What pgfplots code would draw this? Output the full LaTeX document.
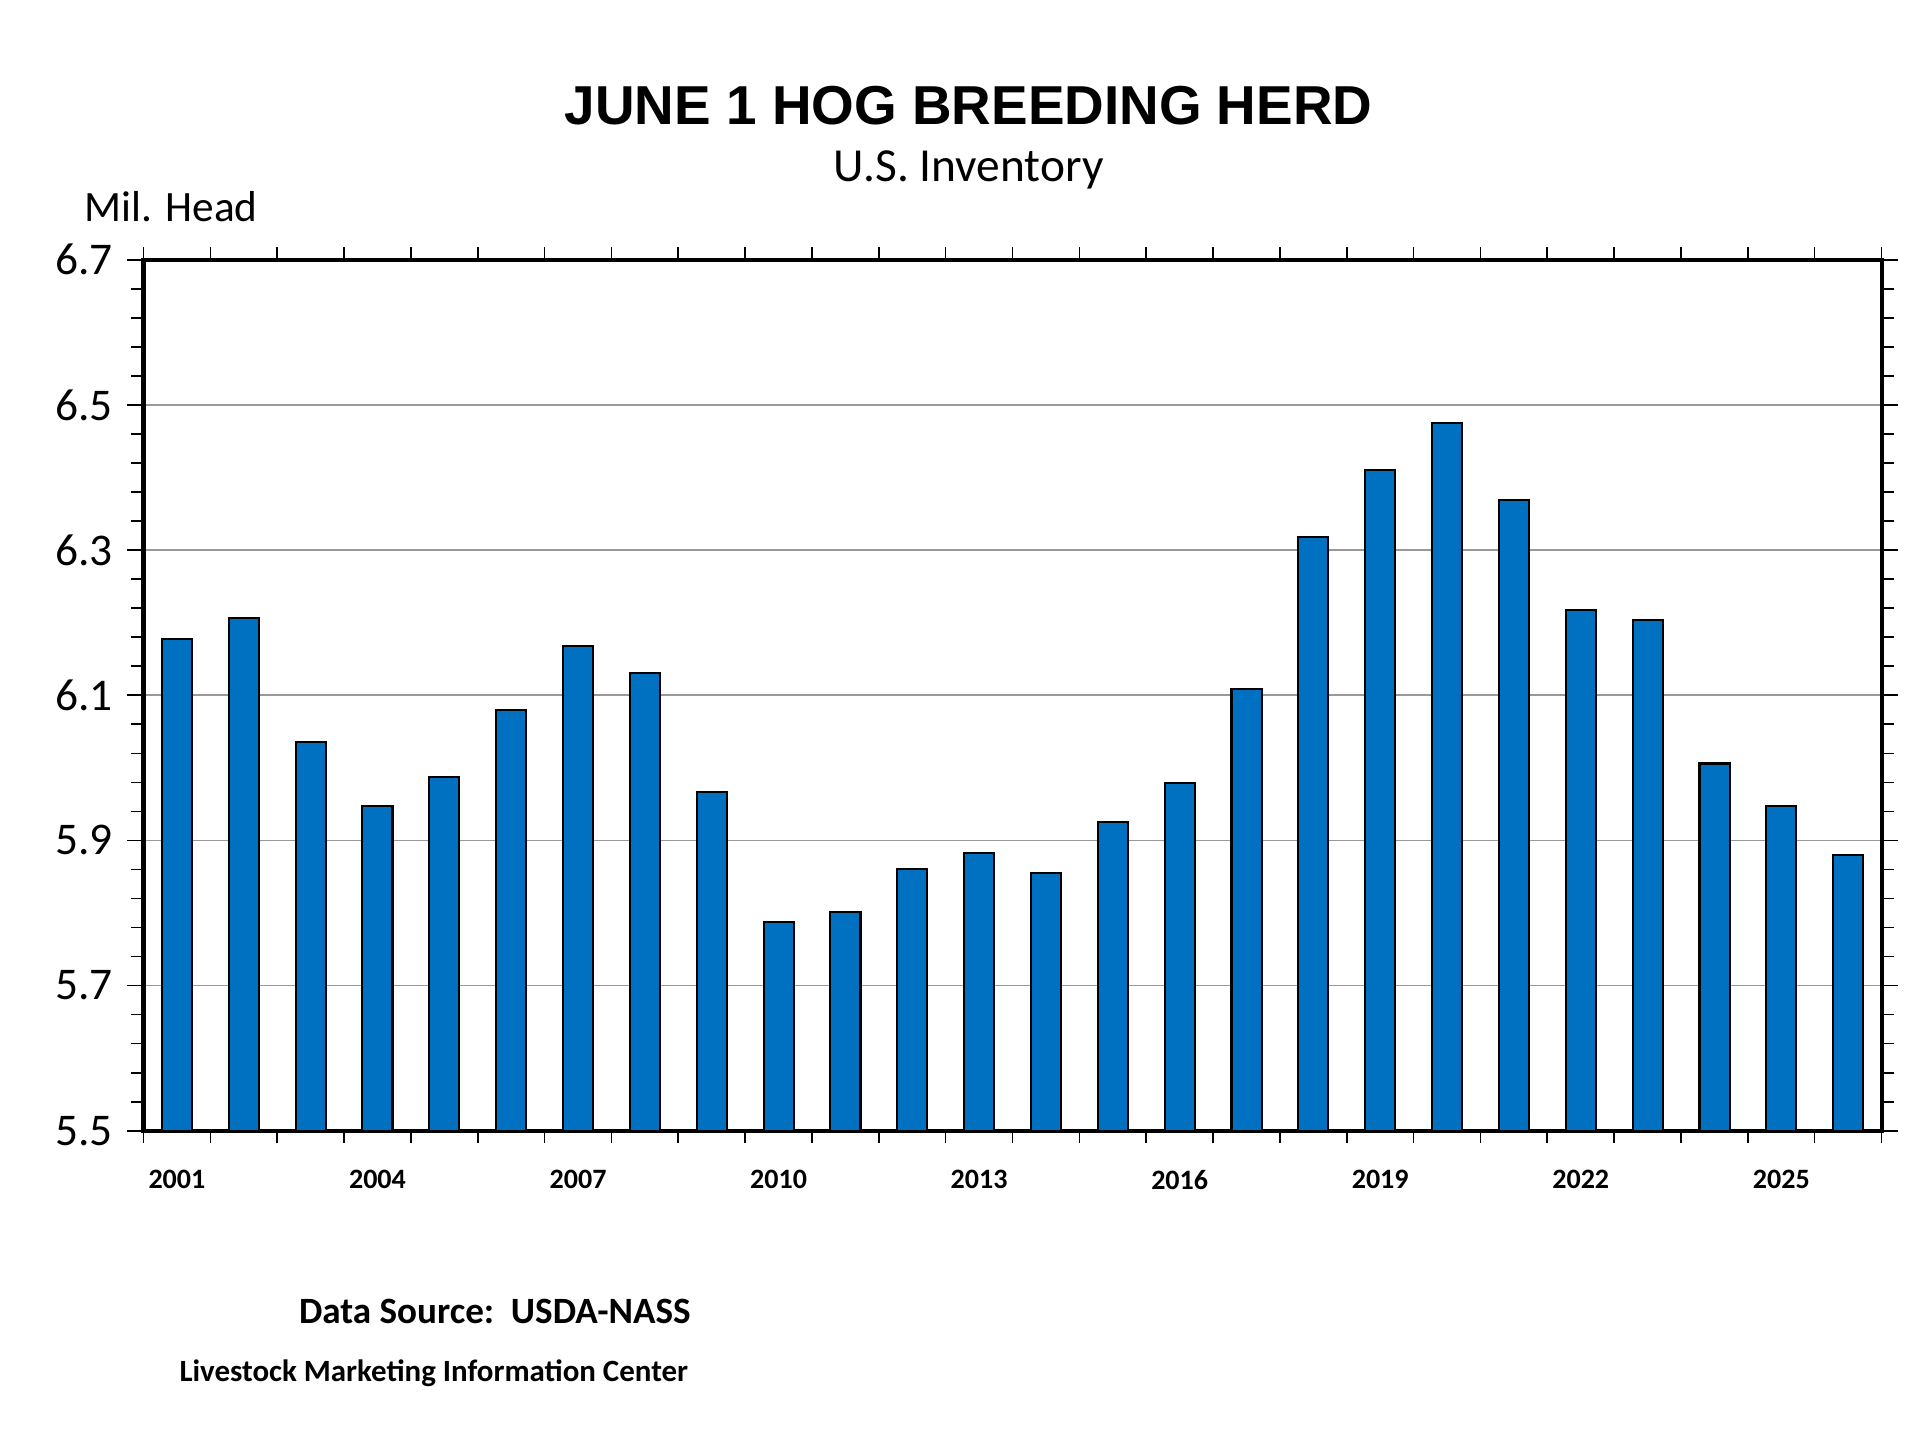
\documentclass[border=0pt]{standalone}
\usepackage{pgfplots}
\pgfplotsset{compat=1.18}
\usepackage{fontspec}
\setmainfont{Carlito}
\newfontfamily\arial{Liberation Sans}
\definecolor{barblue}{RGB}{0,112,192}
\begin{document}
\begin{tikzpicture}
\path (0,0) rectangle (465.6pt,349.2pt);
\begin{axis}[
  at={(34.8pt,75pt)}, anchor=south west, scale only axis,
  width=421.5pt, height=211.2pt,
  xmin=2000.5, xmax=2026.5, ymin=5.5, ymax=6.7,
  ytick={5.5,5.7,...,6.71}, minor y tick num=4,
  yticklabel style={/pgf/number format/fixed,/pgf/number format/fixed zerofill,/pgf/number format/precision=1,font=\fontsize{11}{13}\selectfont},
  /pgf/number format/assume math mode=true,
  xtick={2001,2004,...,2025}, minor xtick={2000.5,2001.5,...,2026.5},
  xticklabel style={font=\fontsize{6.8}{8}\selectfont\bfseries, yshift=-2pt, /pgf/number format/1000 sep={}},
  tick align=outside, major x tick style={draw=none},
  minor tick length=3pt, major tick length=4pt,
  ymajorgrids, grid style={gray!80, line width=0.4pt},
  axis line style={line width=1pt}, tick style={black, line width=0.4pt},
  ybar, bar width=0.45,
]
\addplot[fill=barblue, draw=black, line width=0.5pt] coordinates {
(2001,6.177)(2002,6.207)(2003,6.035)(2004,5.947)(2005,5.987)(2006,6.080)
(2007,6.168)(2008,6.131)(2009,5.967)(2010,5.788)(2011,5.802)(2012,5.861)
(2013,5.883)(2014,5.855)(2015,5.926)(2016,5.979)(2017,6.108)(2018,6.318)
(2019,6.410)(2020,6.475)(2021,6.369)(2022,6.218)(2023,6.204)(2024,6.006)
(2025,5.948)(2026,5.880)};
\end{axis}
\node[font=\arial\bfseries\fontsize{13.3}{15}\selectfont] at (234.9pt,323.7pt) {JUNE 1 HOG BREEDING HERD};
\node[font=\fontsize{11.5}{13}\selectfont] at (234.9pt,308.1pt) {U.S. Inventory};
\node[font=\fontsize{10.5}{12}\selectfont, anchor=west] at (17pt,299.1pt) {Mil. Head};
\node[font=\bfseries\fontsize{9}{11}\selectfont] at (120pt,31.2pt) {Data Source:\ \ USDA-NASS};
\node[font=\bfseries\fontsize{7.5}{9}\selectfont, anchor=west] at (40pt,16.2pt) {Livestock Marketing Information Center};
\end{tikzpicture}
\end{document}
